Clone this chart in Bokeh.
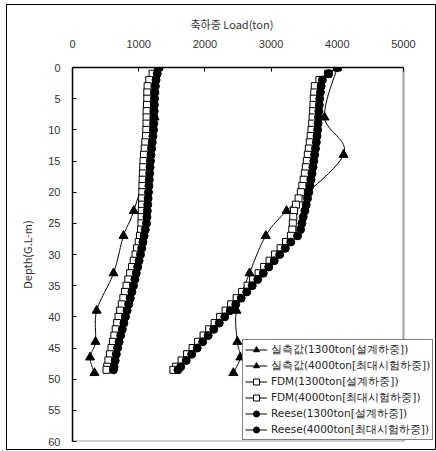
from bokeh.plotting import figure
from bokeh.models import Range1d, FixedTicker, Legend, LegendItem, InlineStyleSheet, Title
from bokeh.embed import file_html
from bokeh.resources import INLINE

# ---- data ----
depth = list(range(0, 49)) + [48.5]

fdm_1300 = [1300, 1210, 1160, 1135, 1130, 1130, 1125, 1120, 1120, 1118,
            1115, 1110, 1100, 1090, 1080, 1073, 1068, 1063, 1060, 1057,
            1055, 1052, 1050, 1047, 1044, 1042, 1035, 1020, 1000, 975,
            952, 925, 898, 870, 843, 816, 792, 768, 744, 720,
            695, 674, 653, 632, 610, 589, 566, 543, 525, 514]

reese_1300 = [1300, 1280, 1262, 1252, 1245, 1240, 1237, 1234, 1231, 1228,
              1224, 1215, 1205, 1195, 1186, 1178, 1172, 1166, 1160, 1154,
              1148, 1142, 1136, 1130, 1124, 1118, 1100, 1082, 1064, 1045,
              1027, 1006, 985, 963, 942, 921, 897, 873, 849, 824,
              800, 776, 752, 728, 704, 680, 662, 645, 628, 619]

fdm_4000 = [4000, 3860, 3730, 3660, 3652, 3645, 3640, 3635, 3628, 3620,
            3610, 3598, 3585, 3570, 3555, 3540, 3525, 3510, 3492, 3472,
            3450, 3415, 3375, 3345, 3335, 3328, 3320, 3300, 3225, 3144,
            3060, 2977, 2894, 2811, 2728, 2645, 2562, 2479, 2396, 2313,
            2230, 2147, 2064, 1980, 1897, 1814, 1731, 1648, 1565, 1524]

reese_4000 = [4000, 3870, 3775, 3755, 3745, 3735, 3728, 3722, 3716, 3710,
              3703, 3693, 3683, 3670, 3658, 3645, 3632, 3618, 3603, 3587,
              3570, 3550, 3530, 3510, 3485, 3465, 3445, 3400, 3297, 3214,
              3130, 3047, 2964, 2881, 2798, 2715, 2632, 2549, 2466, 2383,
              2300, 2217, 2134, 2050, 1967, 1884, 1801, 1718, 1635, 1594]

meas_depth = [0, 8, 14, 23, 27, 33, 39, 44, 46.5, 49]
meas_1300 = [1300, 1240, 1170, 925, 770, 620, 365, 347, 265, 332]
meas_4000 = [4000, 3807, 4094, 3233, 2920, 2674, 2477, 2490, 2535, 2430]

x_ticks = [0, 1000, 2000, 3000, 4000, 5000]
y_ticks = list(range(0, 61, 5))

labels = ["실측값(1300ton[설계하중])", "실측값(4000ton[최대시험하중])",
          "FDM(1300ton[설계하중])", "FDM(4000ton[최대시험하중])",
          "Reese(1300ton[설계하중])", "Reese(4000ton[최대시험하중])"]

X_MAX = 5000
Y_MAX = 60
# frame is wider than the 0-5000 plot area so the legend can stick out to the right
X_VIEW = X_MAX * 361.0 / 331.0


def smooth(xs, ys, n=12):
    # Catmull-Rom curve through the points (drawing style of the line only)
    px = [xs[0]] + list(xs) + [xs[-1]]
    py = [ys[0]] + list(ys) + [ys[-1]]
    ox, oy = [], []
    for i in range(1, len(px) - 2):
        for k in range(n):
            t = k / n
            t2, t3 = t * t, t * t * t

            def cr(p0, p1, p2, p3):
                return 0.5 * ((2 * p1) + (-p0 + p2) * t +
                              (2 * p0 - 5 * p1 + 4 * p2 - p3) * t2 +
                              (-p0 + 3 * p1 - 3 * p2 + p3) * t3)
            ox.append(cr(px[i - 1], px[i], px[i + 1], px[i + 2]))
            oy.append(cr(py[i - 1], py[i], py[i + 1], py[i + 2]))
    ox.append(xs[-1])
    oy.append(ys[-1])
    return ox, oy


p = figure(width=436, height=451, output_backend="svg", toolbar_location=None,
           x_axis_location="above",
           x_range=Range1d(0, X_VIEW), y_range=Range1d(Y_MAX, 0),
           min_border_left=72, min_border_right=3, min_border_top=67,
           min_border_bottom=10)
p.stylesheets = [InlineStyleSheet(css=(
    ":host { position: relative; }"
    ":host::after { content: ''; position: absolute; left: 6px; top: 4px;"
    " width: 430px; height: 446px; border: 1px solid black;"
    " box-sizing: border-box; pointer-events: none; z-index: 100; }"))]
p.xgrid.visible = False
p.ygrid.visible = False
p.outline_line_color = None

# gray plot-area border (right and bottom)
p.segment(x0=[X_MAX, 0], y0=[0, Y_MAX], x1=[X_MAX, X_MAX], y1=[Y_MAX, Y_MAX],
          line_color="#a0a0a0", line_width=2)

for ax, ticks in ((p.xaxis[0], x_ticks), (p.yaxis[0], y_ticks)):
    ax.ticker = FixedTicker(ticks=ticks)
    ax.minor_tick_line_color = None
    ax.major_tick_in = 4
    ax.major_tick_out = 0
    ax.axis_line_color = "black"
    ax.axis_line_width = 1.5
    ax.major_tick_line_color = "black"
    ax.major_label_text_font = "Liberation Sans"
    ax.major_label_text_font_size = "11px"
    ax.major_label_text_color = "#333333"
    ax.axis_label_text_font = "Noto Sans CJK KR"
    ax.axis_label_text_font_size = "11px"
    ax.axis_label_text_font_style = "normal"
    ax.axis_label_text_color = "#333333"

p.xaxis.bounds = (0, X_MAX)
p.xaxis.major_label_standoff = 20
p.yaxis.axis_label = "Depth(G.L-m)"
p.yaxis.major_label_standoff = 12
p.yaxis.axis_label_standoff = 10

# top axis title, centred over the 0-5000 plot area
xtitle = Title(text="축하중 Load(ton)", align="left", offset=118,
               text_font="Noto Sans CJK KR", text_font_size="11px",
               text_font_style="normal", text_color="#333333", standoff=9)
p.add_layout(xtitle, "above")

items = []
# measured
for vals, lab in ((meas_1300, labels[0]), (meas_4000, labels[1])):
    sx, sy = smooth(vals, meas_depth)
    ln = p.line(sx, sy, line_color="black", line_width=1)
    sc = p.scatter(vals, meas_depth, marker="triangle", size=9,
                   fill_color="black", line_color="black")
    items.append(LegendItem(label=lab, renderers=[ln, sc]))

for vals, lab in ((fdm_1300, labels[2]), (fdm_4000, labels[3])):
    ln = p.line(vals, depth, line_color="black", line_width=1)
    sc = p.scatter(vals, depth, marker="square", size=7,
                   fill_color="white", line_color="black", line_width=1)
    items.append(LegendItem(label=lab, renderers=[ln, sc]))

for vals, lab in ((reese_1300, labels[4]), (reese_4000, labels[5])):
    ln = p.line(vals, depth, line_color="black", line_width=1)
    sc = p.scatter(vals, depth, marker="circle", size=8,
                   fill_color="black", line_color="black")
    items.append(LegendItem(label=lab, renderers=[ln, sc]))

legend = Legend(items=items, location=(170, 1))
legend.label_text_font = "DejaVu Sans"
legend.label_text_font_size = "10.5px"
legend.label_text_color = "#222222"
legend.label_height = 15
legend.glyph_height = 15
legend.glyph_width = 22
legend.spacing = 1
legend.padding = 2
legend.margin = 0
legend.label_standoff = 4
legend.border_line_color = "black"
legend.border_line_width = 1
legend.background_fill_alpha = 1
p.add_layout(legend)

open("out.html", "w").write(file_html(p, INLINE))
